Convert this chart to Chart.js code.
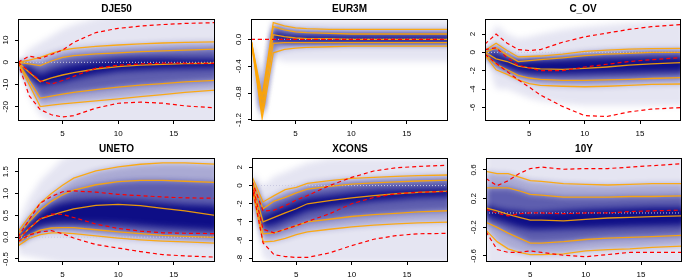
<!DOCTYPE html>
<html><head><meta charset="utf-8">
<script src="https://cdn.jsdelivr.net/npm/chart.js@4.4.1/dist/chart.umd.min.js"></script>
<style>
html,body{margin:0;padding:0;background:#fff;width:700px;height:280px;overflow:hidden;position:relative}
canvas{position:absolute}
</style></head><body>
<script>
// ---------- data ----------
const horizons = [1,2,3,4,5,6,8,10,12,14,16,19];
const xTicks = [5,10,15];
const xLabels = ['5','10','15'];
const zeroLine = [0,0,0,0,0,0,0,0,0,0,0,0];

// DJE50
const djeTicks = [-20,-10,0,10];
const djeTickLabels = ['-20','-10','0','10'];
const djeQ95 = [0, 1, 2.2, 4, 5.5, 6.3, 7.2, 7.8, 8.3, 8.7, 9, 9.2];
const djeQ84 = [0, -0.7, -1.5, 0.6, 2.2, 3, 3.8, 4.3, 4.8, 5.2, 5.5, 6];
const djeQ50 = [0, -4.5, -8.7, -7, -5.7, -4.6, -3, -1.9, -1.3, -0.9, -0.6, -0.4];
const djeQ16 = [0, -8, -16.1, -15.2, -14.3, -13.5, -12.3, -11.2, -10.3, -9.6, -8.8, -8];
const djeQ05 = [0, -10, -19.9, -19.3, -18.7, -18.2, -17.3, -16.4, -15.4, -14.5, -13.5, -12.4];
const djeRedHi = [0, 2.8, 1.8, 3.5, 5.5, 9, 13.4, 15.3, 16.3, 17, 17.5, 17.9];
const djeRedMid = [0, -4, -8.3, -9.8, -8.2, -6.3, -2.6, -1.3, -0.7, -0.4, -0.4, -0.5];
const djeRedLo = [0, -15, -21.3, -23.6, -24.6, -24, -20.6, -18.4, -17.9, -18.4, -19.6, -20.6];
const djeFanHi = [0.5, 6, 9, 12, 15, 17, 20, 22, 24, 25, 26, 27];
const djeFanLo = [-0.5, -15, -24, -27, -29, -30, -30, -30, -30, -30, -30, -30];
const djeCoreHi = [0, -2, -5.5, -3.5, -2, -1, 0.5, 1.5, 1.8, 1.8, 1.6, 1.5];
const djeCoreLo = [0, -6.5, -10.5, -9.5, -8.7, -7.5, -5.5, -4, -3.5, -3, -2.8, -2.5];

// EUR3M
const eurTicks = [-1.2,-0.8,-0.4,0];
const eurTickLabels = ['-1.2','-0.8','-0.4','0.0'];
const eurQ95 = [0, -0.85, 0.25, 0.2, 0.17, 0.16, 0.15, 0.15, 0.15, 0.15, 0.15, 0.15];
const eurQ84 = [0, -0.92, 0.19, 0.14, 0.11, 0.1, 0.09, 0.08, 0.08, 0.08, 0.08, 0.08];
const eurQ50 = [0, -1.02, 0.07, 0.04, 0.02, 0.01, 0.01, 0, 0, 0, 0, 0];
const eurQ16 = [0, -1.1, -0.06, -0.05, -0.05, -0.05, -0.05, -0.05, -0.05, -0.05, -0.05, -0.05];
const eurQ05 = [0, -1.18, -0.2, -0.15, -0.13, -0.12, -0.11, -0.1, -0.1, -0.1, -0.1, -0.1];
const eurRedMid = [0, 0, 0, 0, 0, 0, 0, 0, 0, 0, 0, 0];
const eurFanHi = [0.05, -0.6, 0.32, 0.31, 0.3, 0.3, 0.3, 0.3, 0.3, 0.3, 0.3, 0.3];
const eurFanLo = [-0.05, -1.3, -0.28, -0.33, -0.33, -0.33, -0.33, -0.33, -0.33, -0.33, -0.33, -0.33];
const eurCoreHi = [0, -0.95, 0.1, 0.06, 0.05, 0.05, 0.05, 0.05, 0.05, 0.05, 0.05, 0.05];
const eurCoreLo = [0, -1.08, 0, -0.03, -0.04, -0.04, -0.04, -0.04, -0.04, -0.04, -0.04, -0.04];

// C_OV
const covTicks = [-6,-4,-2,0,2];
const covTickLabels = ['-6','-4','-2','0','2'];
const covQ95 = [0.2, 1.0, 0.2, -0.5, -0.45, -0.4, -0.2, 0.1, 0.25, 0.35, 0.4, 0.45];
const covQ84 = [0, 0.5, -0.3, -1.0, -0.9, -0.8, -0.6, -0.35, -0.2, -0.1, 0, 0];
const covQ50 = [0, -0.7, -1.0, -1.5, -1.7, -1.8, -1.85, -1.75, -1.6, -1.4, -1.25, -1.1];
const covQ16 = [-0.2, -1.3, -1.9, -2.5, -2.8, -2.95, -3.05, -3.05, -3.0, -2.95, -2.85, -2.75];
const covQ05 = [-0.3, -1.9, -2.4, -3.0, -3.4, -3.6, -3.7, -3.75, -3.7, -3.6, -3.5, -3.45];
const covRedHi = [0.9, 2.0, 1.0, 0.3, 0.2, 0.3, 1.1, 1.7, 2.1, 2.5, 2.8, 3.05];
const covRedMid = [0.3, 0.5, -0.6, -1.4, -1.7, -2.0, -2.0, -1.6, -1.3, -1.0, -0.8, -0.55];
const covRedLo = [-0.2, -1.2, -2.1, -3.0, -3.8, -4.65, -5.9, -6.9, -7.0, -6.5, -6.2, -6.0];
const covFanHi = [0.5, 3, 2, 1.5, 1.7, 2, 2.5, 2.8, 3, 3.2, 3.3, 3.5];
const covFanLo = [-0.5, -4, -4, -4.5, -5, -5.3, -5.6, -5.8, -5.8, -5.8, -5.8, -5.8];
const covCoreHi = [0.1, -0.2, -0.7, -1.0, -0.9, -0.85, -0.8, -0.7, -0.65, -0.6, -0.55, -0.5];
const covCoreLo = [-0.1, -1.1, -1.7, -2.1, -2.3, -2.35, -2.35, -2.3, -2.25, -2.2, -2.15, -2.1];

// UNETO
const uneTicks = [-0.5,0,0.5,1,1.5];
const uneTickLabels = ['-0.5','0.0','0.5','1.0','1.5'];
const uneQ95 = [0.13, 0.47, 0.78, 1.0, 1.19, 1.35, 1.52, 1.61, 1.67, 1.7, 1.7, 1.67];
const uneQ84 = [0.05, 0.35, 0.62, 0.82, 0.97, 1.08, 1.2, 1.27, 1.3, 1.3, 1.28, 1.25];
const uneQ50 = [-0.05, 0.2, 0.42, 0.5, 0.58, 0.65, 0.73, 0.75, 0.72, 0.66, 0.6, 0.49];
const uneQ16 = [-0.12, 0.05, 0.16, 0.21, 0.22, 0.22, 0.17, 0.12, 0.08, 0.04, 0.02, -0.01];
const uneQ05 = [-0.2, -0.03, 0.06, 0.1, 0.1, 0.08, 0.03, -0.02, -0.06, -0.09, -0.11, -0.14];
const uneRedHi = [0.0, 0.4, 0.78, 0.93, 1.04, 1.06, 1.03, 0.98, 0.95, 0.92, 0.9, 0.89];
const uneRedMid = [-0.05, 0.2, 0.42, 0.53, 0.52, 0.45, 0.3, 0.2, 0.14, 0.1, 0.09, 0.08];
const uneRedLo = [-0.1, 0.05, 0.12, 0.15, 0.08, -0.02, -0.17, -0.25, -0.33, -0.4, -0.43, -0.46];
const uneFanHi = [0.35, 0.9, 1.3, 1.55, 1.8, 1.9, 2, 2, 2, 2, 2, 2];
const uneFanLo = [-0.4, -0.45, -0.5, -0.55, -0.6, -0.6, -0.6, -0.6, -0.6, -0.6, -0.6, -0.6];
const uneCoreHi = [0.0, 0.3, 0.55, 0.7, 0.78, 0.83, 0.86, 0.85, 0.82, 0.78, 0.75, 0.72];
const uneCoreLo = [-0.1, 0.1, 0.26, 0.3, 0.32, 0.32, 0.31, 0.3, 0.26, 0.22, 0.19, 0.15];

// XCONS
const xcTicks = [-8,-6,-4,-2,0,2];
const xcTickLabels = ['-8','-6','-4','-2','0','2'];
const xcQ95 = [1.0, -1.8, -1.1, -0.45, -0.2, 0.25, 0.55, 0.8, 0.9, 1.0, 1.1, 1.17];
const xcQ84 = [0.6, -2.55, -1.7, -1.3, -0.8, -0.4, -0.1, 0.15, 0.3, 0.4, 0.5, 0.6];
const xcQ50 = [0.3, -4.0, -3.5, -3.0, -2.55, -2.0, -1.65, -1.35, -1.1, -0.9, -0.75, -0.6];
const xcQ16 = [0.0, -5.3, -5.2, -4.8, -4.4, -4.0, -3.7, -3.4, -3.2, -3.05, -2.9, -2.75];
const xcQ05 = [-0.3, -6.2, -6.1, -5.8, -5.4, -5.1, -4.8, -4.55, -4.35, -4.2, -4.1, -4.0];
const xcRedHi = [0.5, -2.8, -2.7, -2.2, -1.6, -1.1, 0, 0.9, 1.6, 1.95, 2.1, 2.25];
const xcRedMid = [0.3, -4.8, -5.2, -4.8, -4.4, -3.95, -3.1, -2.0, -1.3, -0.9, -0.73, -0.65];
const xcRedLo = [0, -6.3, -7.6, -7.8, -7.9, -7.9, -7.4, -6.6, -5.9, -5.5, -5.3, -5.25];
const xcFanHi = [1.5, 0, 1, 1.5, 2, 2.5, 3, 3, 3, 3, 3, 3];
const xcFanLo = [-0.5, -8, -8.5, -8.5, -8.5, -8.5, -8.5, -8.5, -8.5, -8.5, -8.5, -8.5];
const xcCoreHi = [0.5, -3.5, -2.8, -2.3, -1.8, -1.4, -1.1, -0.8, -0.6, -0.5, -0.4, -0.3];
const xcCoreLo = [0, -4.5, -4.3, -3.8, -3.3, -2.8, -2.3, -2.0, -1.7, -1.5, -1.3, -1.2];

// 10Y
const y10Ticks = [-0.6,-0.2,0.2,0.6];
const y10TickLabels = ['-0.6','-0.2','0.2','0.6'];
const y10Q95 = [0.58, 0.55, 0.55, 0.5, 0.45, 0.44, 0.41, 0.4, 0.39, 0.4, 0.41, 0.41];
const y10Q84 = [0.35, 0.35, 0.35, 0.31, 0.26, 0.25, 0.22, 0.22, 0.22, 0.23, 0.23, 0.24];
const y10Q50 = [0.07, 0.03, -0.02, -0.06, -0.1, -0.1, -0.11, -0.09, -0.07, -0.06, -0.05, -0.04];
const y10Q16 = [-0.13, -0.2, -0.28, -0.35, -0.42, -0.42, -0.4, -0.37, -0.35, -0.34, -0.33, -0.31];
const y10Q05 = [-0.24, -0.4, -0.5, -0.55, -0.58, -0.58, -0.57, -0.53, -0.51, -0.5, -0.48, -0.46];
const y10RedHi = [0.48, 0.38, 0.45, 0.55, 0.62, 0.64, 0.61, 0.62, 0.62, 0.64, 0.66, 0.69];
const y10RedMid = [0.05, 0.0, -0.04, -0.01, 0.0, 0.0, -0.01, 0.0, 0.0, 0.02, 0.03, 0.04];
const y10RedLo = [-0.26, -0.51, -0.55, -0.55, -0.53, -0.55, -0.59, -0.61, -0.58, -0.55, -0.55, -0.55];
const y10FanHi = [0.9, 0.9, 0.9, 0.9, 0.9, 0.9, 0.9, 0.9, 0.9, 0.9, 0.9, 0.9];
const y10FanLo = [-0.75, -0.75, -0.75, -0.75, -0.75, -0.75, -0.75, -0.75, -0.75, -0.75, -0.75, -0.75];
const y10CoreHi = [0.1, 0.06, 0.03, 0.02, 0.0, 0.01, 0.03, 0.05, 0.06, 0.07, 0.08, 0.08];
const y10CoreLo = [-0.05, -0.1, -0.15, -0.2, -0.23, -0.23, -0.22, -0.21, -0.2, -0.19, -0.18, -0.17];

// ---------- panels ----------
const panels = [
  {title:'DJE50', left:0,   top:0,   w:218, h:141, tp:3.5, yMin:-26.4, yMax:19.5, ticks:djeTicks, labels:djeTickLabels,
   q:[djeQ95,djeQ84,djeQ50,djeQ16,djeQ05], red:[djeRedHi,djeRedMid,djeRedLo], fan:[djeFanHi,djeFanLo], core:[djeCoreHi,djeCoreLo]},
  {title:'EUR3M', left:233, top:0,   w:218, h:141, tp:3.5, yMin:-1.215, yMax:0.303, ticks:eurTicks, labels:eurTickLabels,
   q:[eurQ95,eurQ84,eurQ50,eurQ16,eurQ05], red:[eurRedMid], fan:[eurFanHi,eurFanLo], core:[eurCoreHi,eurCoreLo]},
  {title:'C_OV',  left:467, top:0,   w:217, h:141, tp:3.5, yMin:-7.49, yMax:3.64, ticks:covTicks, labels:covTickLabels,
   q:[covQ95,covQ84,covQ50,covQ16,covQ05], red:[covRedHi,covRedMid,covRedLo], fan:[covFanHi,covFanLo], core:[covCoreHi,covCoreLo]},
  {title:'UNETO', left:0,   top:140, w:218, h:142, tp:3, yMin:-0.569, yMax:1.813, ticks:uneTicks, labels:uneTickLabels,
   q:[uneQ95,uneQ84,uneQ50,uneQ16,uneQ05], red:[uneRedHi,uneRedMid,uneRedLo], fan:[uneFanHi,uneFanLo], core:[uneCoreHi,uneCoreLo]},
  {title:'XCONS', left:234, top:140, w:217, h:142, tp:3, yMin:-8.40, yMax:3.03, ticks:xcTicks, labels:xcTickLabels,
   q:[xcQ95,xcQ84,xcQ50,xcQ16,xcQ05], red:[xcRedHi,xcRedMid,xcRedLo], fan:[xcFanHi,xcFanLo], core:[xcCoreHi,xcCoreLo]},
  {title:'10Y',   left:468, top:140, w:217, h:142, tp:3, yMin:-0.684, yMax:0.767, ticks:y10Ticks, labels:y10TickLabels,
   q:[y10Q95,y10Q84,y10Q50,y10Q16,y10Q05], red:[y10RedHi,y10RedMid,y10RedLo], fan:[y10FanHi,y10FanLo], core:[y10CoreHi,y10CoreLo]}
];

const FONT = '"Liberation Sans", Arial, Helvetica, sans-serif';
Chart.defaults.font.family = FONT;
Chart.defaults.font.size = 8;
Chart.defaults.color = '#000';

const navy = a => 'rgba(0,0,128,' + a + ')';
const mctx = document.createElement('canvas').getContext('2d');
mctx.font = '8px ' + FONT;

function pts(arr) { return arr.map((v, i) => ({x: horizons[i], y: v})); }

const blurFan = {
  id: 'blurFan',
  beforeRender(chart) { chart.ctx.save(); chart.ctx.filter = 'blur(3px)'; },
  beforeDraw(chart) { chart.ctx.restore(); }
};
const boxPlugin = {
  id: 'boxPlugin',
  afterDraw(chart) {
    const a = chart.chartArea, c = chart.ctx;
    c.save(); c.strokeStyle = '#000'; c.lineWidth = 1;
    c.strokeRect(Math.round(a.left) + 0.5, Math.round(a.top) + 0.5, Math.round(a.right - a.left) - 1, Math.round(a.bottom - a.top) - 1);
    c.restore();
  }
};

panels.forEach(p => {
  const cv = document.createElement('canvas');
  cv.width = p.w; cv.height = p.h;
  cv.style.left = p.left + 'px'; cv.style.top = p.top + 'px';
  cv.style.width = p.w + 'px'; cv.style.height = p.h + 'px';
  document.body.appendChild(cv);

  const ds = [];
  p.red.forEach(arr => ds.push({data: pts(arr), borderColor: '#ff0000', borderWidth: 1.2, borderDash: [4, 3], pointRadius: 0, fill: false}));
  const qs = ds.length;
  p.q.forEach(arr => ds.push({data: pts(arr), borderColor: 'rgba(255,165,0,0.9)', borderWidth: 1.3, pointRadius: 0, fill: false}));
  ds[qs].fill = {target: qs + 4}; ds[qs].backgroundColor = navy(0.26);
  ds[qs + 1].fill = {target: qs + 3}; ds[qs + 1].backgroundColor = navy(0.45);
  ds.push({data: pts(zeroLine), borderColor: 'rgba(200,200,225,1)', borderWidth: 1, borderDash: [1, 2], pointRadius: 0, fill: false});
  const f = ds.length;
  ds.push({data: pts(p.fan[0]), borderWidth: 0, borderColor: 'rgba(0,0,0,0)', pointRadius: 0, fill: {target: f + 1}, backgroundColor: navy(0.1)});
  ds.push({data: pts(p.fan[1]), borderWidth: 0, borderColor: 'rgba(0,0,0,0)', pointRadius: 0, fill: false});
  ds.push({data: pts(p.core[0]), borderWidth: 0, borderColor: 'rgba(0,0,0,0)', pointRadius: 0, fill: {target: f + 3}, backgroundColor: navy(0.85)});
  ds.push({data: pts(p.core[1]), borderWidth: 0, borderColor: 'rgba(0,0,0,0)', pointRadius: 0, fill: false});

  let widest = 0;
  p.labels.forEach(l => { widest = Math.max(widest, mctx.measureText(l).width); });
  const yPad = 12.5 - 3 - widest / 2;

  new Chart(cv, {
    type: 'line',
    data: {datasets: ds},
    plugins: [blurFan, boxPlugin],
    options: {
      responsive: false, animation: false, events: [], devicePixelRatio: 1,
      layout: {padding: {right: 3}},
      elements: {line: {tension: 0}},
      plugins: {
        legend: {display: false}, tooltip: {enabled: false},
        filler: {drawTime: 'beforeDraw', propagate: false},
        title: {display: true, text: p.title, fullSize: false, color: '#000',
                font: {size: 10, weight: 'bold', family: FONT}, padding: {top: p.tp, bottom: p.tp}}
      },
      scales: {
        x: {type: 'linear', min: 1, max: 18.7,
            afterBuildTicks: s => { s.ticks = xTicks.map(v => ({value: v})); },
            afterFit: s => { s.height = 20; },
            ticks: {padding: 5, maxRotation: 0, color: '#000', font: {size: 8}, callback: (v, i) => xLabels[i]},
            grid: {drawOnChartArea: false, drawTicks: true, tickLength: 3, color: '#000', lineWidth: 1},
            border: {display: false}},
        y: {type: 'linear', min: p.yMin, max: p.yMax,
            afterBuildTicks: s => { s.ticks = p.ticks.map(v => ({value: v})); },
            afterFit: s => { s.width = 18; },
            ticks: {padding: yPad, minRotation: 90, maxRotation: 90, crossAlign: 'center', color: '#000', font: {size: 8}, callback: (v, i) => p.labels[i]},
            grid: {drawOnChartArea: false, drawTicks: true, tickLength: 3, color: '#000', lineWidth: 1},
            border: {display: false}}
      }
    }
  });
});
</script>
</body></html>
